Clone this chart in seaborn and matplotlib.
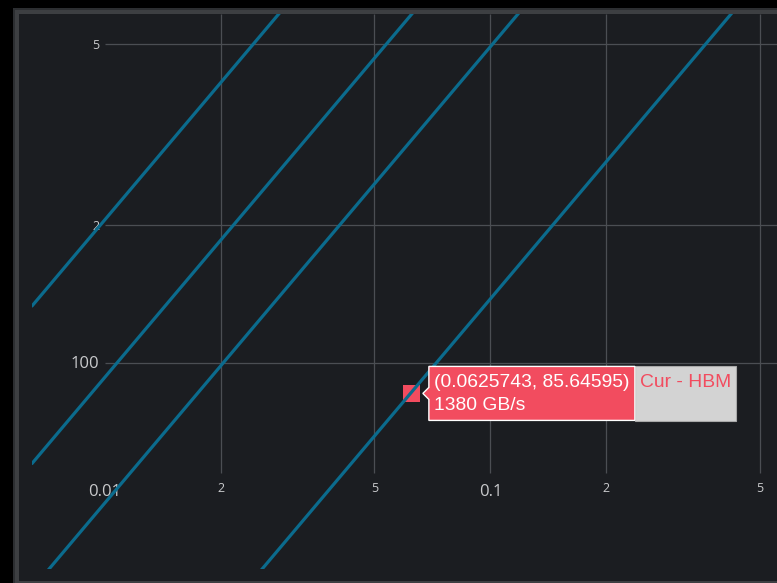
import numpy as np
import pandas as pd
import matplotlib
matplotlib.use("Agg")
import matplotlib.pyplot as plt
import seaborn as sns
from matplotlib.patches import Rectangle, Polygon
from matplotlib.transforms import Affine2D, blended_transform_factory

# ---------------- data ----------------
roof_names = ["Roof A", "Roof B", "Roof C", "HBM"]
roof_bandwidth_gbs = [20600, 9300, 4930, 1380]

x_limits = [0.006464, 0.5547]      # arithmetic intensity range (FLOP/byte)
y_limits = [35.29, 581.7]          # performance range (GFLOP/s)

point_ai = [0.0625743]
point_perf = [85.64595]
point_name = "Cur - HBM"
point_bw_text = "1380 GB/s"

x_grid = [0.02, 0.05, 0.1, 0.2, 0.5]
x_tick_vals = [0.01, 0.02, 0.05, 0.1, 0.2, 0.5]
x_tick_text = ["0.01", "2", "5", "0.1", "2", "5"]
x_tick_major = [True, False, False, True, False, False]
y_grid = [100, 200, 500]
y_tick_text = ["100", "2", "5"]
y_tick_major = [True, False, False]
grid_x_start = 0.01
grid_y_start = 57.3

# ---------------- build tables ----------------
rows = []
for name, bw in zip(roof_names, roof_bandwidth_gbs):
    for xv in x_limits:
        rows.append({"roof": name, "ai": xv, "perf": bw * xv})
roof_df = pd.DataFrame(rows)
pt_df = pd.DataFrame({"ai": point_ai, "perf": point_perf})

# ---------------- figure ----------------
W, H = 777, 583
DPI = 100
sns.set_theme(style="dark")
plt.rcParams["font.family"] = ["Open Sans", "DejaVu Sans"]

fig = plt.figure(figsize=(W / DPI, H / DPI), dpi=DPI, facecolor="black")

# panel with frame
fig.patches.append(Rectangle((13 / W, 0), 1, (H - 8) / H, transform=fig.transFigure,
                             facecolor="#2c2e31", edgecolor="none", zorder=-30))
fig.patches.append(Rectangle((15 / W, 0), 1, (H - 10) / H, transform=fig.transFigure,
                             facecolor="#3d3f42", edgecolor="none", zorder=-20))
fig.patches.append(Rectangle((19 / W, 2 / H), 1, (H - 16) / H, transform=fig.transFigure,
                             facecolor="#1b1d21", edgecolor="none", zorder=-10))

left, right, top, bottom = 32, 777, 14, 569
ax = fig.add_axes([left / W, (H - bottom) / H, (right - left) / W, (bottom - top) / H])
ax.set_zorder(5)
ax.patch.set_visible(False)
ax.set_xscale("log")
ax.set_yscale("log")
for s in ax.spines.values():
    s.set_visible(False)
ax.grid(False)

grid_col = "#4b4e53"
ax.vlines(x_grid, grid_y_start, y_limits[1], colors=grid_col, linewidth=0.9, zorder=1)
ax.hlines(y_grid, grid_x_start, x_limits[1], colors=grid_col, linewidth=0.9, zorder=1)

line_col = "#0b6b8d"
sns.lineplot(data=roof_df, x="ai", y="perf", units="roof", estimator=None,
             color=line_col, linewidth=2.3, ax=ax, zorder=4, legend=False)

red = "#f24c5f"
sns.scatterplot(data=pt_df, x="ai", y="perf", marker="s", s=150, color=red,
                edgecolor="none", ax=ax, zorder=3, legend=False)

ax.set_xlim(x_limits)
ax.set_ylim(y_limits)
ax.set_xlabel("")
ax.set_ylabel("")
ax.set_xticks([])
ax.set_yticks([])
ax.minorticks_off()
ax.tick_params(which="both", length=0, labelbottom=False, labelleft=False)

# tick labels inside the plot
tick_col = "#c9cacc"
bx = blended_transform_factory(ax.transData, ax.transAxes)
for v, t, major in zip(x_tick_vals, x_tick_text, x_tick_major):
    ax.text(v, 0.139 if major else 0.1455, t, transform=bx, ha="center", va="center",
            fontsize=12 if major else 9, color=tick_col)
by = blended_transform_factory(ax.transAxes, ax.transData)
for v, t, major in zip(y_grid, y_tick_text, y_tick_major):
    ax.text(0.0906, v * 0.993, t, transform=by, ha="right", va="center",
            fontsize=12 if major else 9, color=tick_col)

# hover label
px, py = ax.transData.transform((point_ai[0], point_perf[0]))
tr = Affine2D().translate(px, py)
ax.add_artist(Rectangle((223, -28), 101, 55, transform=tr, facecolor="#d3d3d3",
                        edgecolor="#a9a9a9", linewidth=0.8, zorder=10, clip_on=False))
poly = [(17, 27), (223, 27), (223, -27), (17, -27), (17, -6), (11, 0), (17, 6)]
ax.add_artist(Polygon(poly, closed=True, transform=tr, facecolor=red,
                      edgecolor="white", linewidth=1.0, zorder=11, clip_on=False))
hover_font = ["Liberation Sans", "DejaVu Sans"]
ax.text(22, 11, f"({point_ai[0]}, {point_perf[0]})", transform=tr, ha="left",
        va="center", fontsize=13.9, color="white", family=hover_font, zorder=12)
ax.text(22, -12.5, point_bw_text, transform=tr, ha="left", va="center",
        fontsize=13.9, color="white", family=hover_font, zorder=12)
ax.text(228, 11, point_name, transform=tr, ha="left", va="center",
        fontsize=13.9, color=red, family=hover_font, zorder=12)

fig.savefig("out.png", dpi=DPI, facecolor=fig.get_facecolor())
